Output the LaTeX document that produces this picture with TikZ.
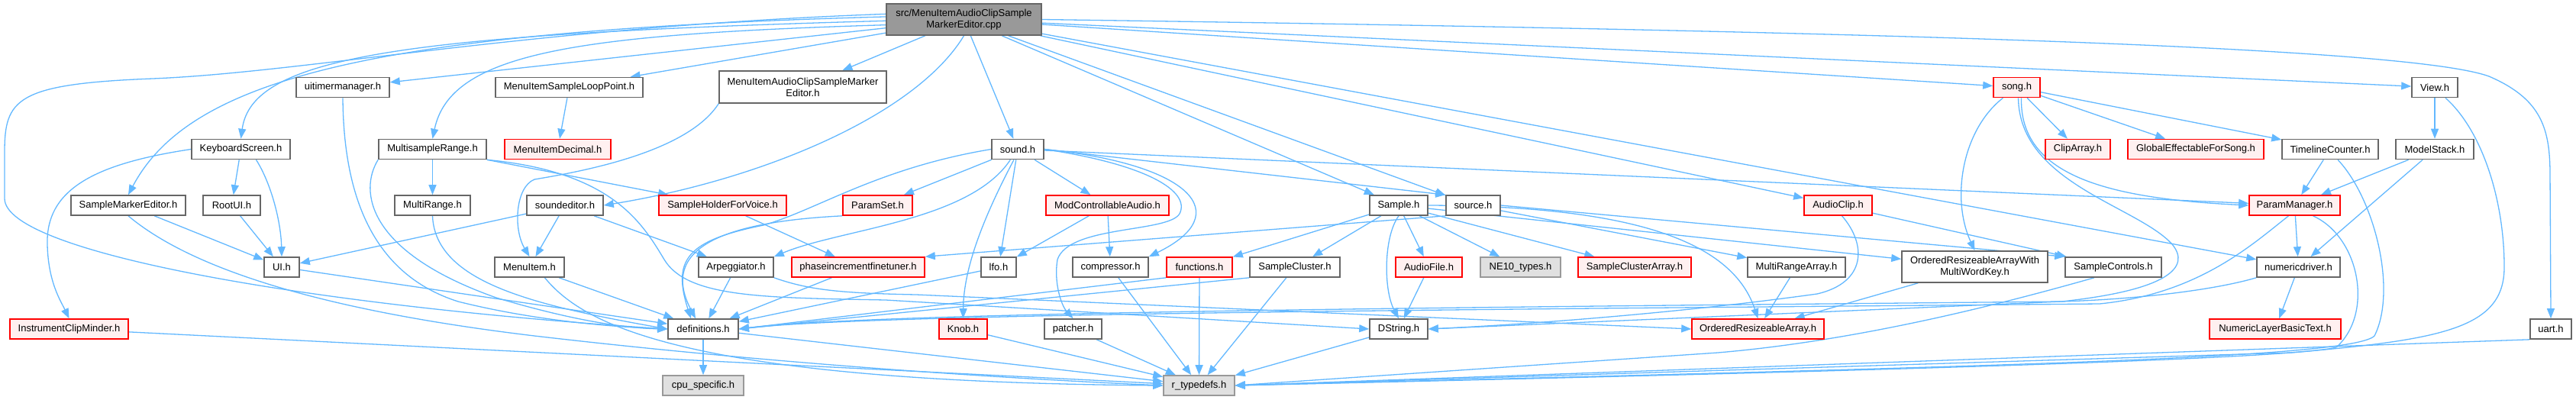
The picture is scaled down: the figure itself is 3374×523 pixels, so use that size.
\documentclass[tikz,border=0pt]{standalone}
\usepackage{fontspec}
\setmainfont{Liberation Sans}
\usepackage{xcolor}
\usepackage{tikz}
\usetikzlibrary{arrows.meta,backgrounds}

\definecolor{depblue}{HTML}{63B8FF}
\definecolor{boxline}{HTML}{666666}
\definecolor{leaffill}{HTML}{E0E0E0}
\definecolor{leafline}{HTML}{999999}
\definecolor{redfill}{HTML}{FFF0F0}

\tikzset{
  hdr/.style={draw=boxline, fill=white, line width=1.6pt, minimum height=26, inner sep=0pt,
    font=\fontsize{13}{15}\selectfont, align=center},
  redhdr/.style={hdr, draw=red, fill=redfill},
  leafhdr/.style={hdr, draw=leafline, fill=leaffill},
  tophdr/.style={hdr, fill=leafline},
  dep/.style={depblue, line width=1.3pt, -{Triangle[length=13pt, width=10pt]}},
}

\begin{document}
\begin{tikzpicture}[x=1pt, y=-1pt]
  \useasboundingbox (0,0) rectangle (3374,523);
  % Root file
  \node[tophdr, minimum width=203, minimum height=41] (cpp) at (1262.5,25.5) {src/MenuItemAudioClipSample\\MarkerEditor.cpp};
  % Row 1
  \node[hdr, minimum width=122] (uitimer) at (449,114.5) {uitimermanager.h};
  \node[hdr, minimum width=193] (mislp) at (745.5,114.5) {MenuItemSampleLoopPoint.h};
  \node[hdr, minimum width=219, minimum height=42] (miacsme) at (1051.5,114) {MenuItemAudioClipSampleMarker\\Editor.h};
  \node[redhdr, minimum width=61] (song) at (2641.5,114.5) {song.h};
  \node[hdr, minimum width=60] (view) at (3189,114.5) {View.h};
  % Row 2
  \node[hdr, minimum width=129] (kbd) at (315.5,195.5) {KeyboardScreen.h};
  \node[hdr, minimum width=141] (msr) at (566.5,195.5) {MultisampleRange.h};
  \node[redhdr, minimum width=139] (midec) at (730.5,195.5) {MenuItemDecimal.h};
  \node[hdr, minimum width=68] (sound) at (1333,195.5) {sound.h};
  \node[redhdr, minimum width=85] (cliparr) at (2721.5,195.5) {ClipArray.h};
  \node[redhdr, minimum width=178] (globfx) at (2876,195.5) {GlobalEffectableForSong.h};
  \node[hdr, minimum width=126] (tcount) at (3052,195.5) {TimelineCounter.h};
  \node[hdr, minimum width=102] (mstack) at (3189,195.5) {ModelStack.h};
  % Row 3
  \node[hdr, minimum width=150] (sme) at (168,269) {SampleMarkerEditor.h};
  \node[hdr, minimum width=75] (rootui) at (303.5,269) {RootUI.h};
  \node[hdr, minimum width=99] (mrange) at (566.5,269) {MultiRange.h};
  \node[hdr, minimum width=100] (sedit) at (740,269) {soundeditor.h};
  \node[redhdr, minimum width=167] (shfv) at (946.5,269) {SampleHolderForVoice.h};
  \node[redhdr, minimum width=91] (pset) at (1149.5,269) {ParamSet.h};
  \node[redhdr, minimum width=161] (mca) at (1450.5,269) {ModControllableAudio.h};
  \node[hdr, minimum width=76] (sample) at (1832,269) {Sample.h};
  \node[hdr, minimum width=71] (source) at (1929.5,269) {source.h};
  \node[redhdr, minimum width=89] (aclip) at (2407.5,269) {AudioClip.h};
  \node[redhdr, minimum width=119] (pman) at (3005.5,269) {ParamManager.h};
  % Row 4
  \node[hdr, minimum width=46] (ui) at (369,350) {UI.h};
  \node[hdr, minimum width=91] (mitem) at (693.5,350) {MenuItem.h};
  \node[hdr, minimum width=98] (arp) at (964,350) {Arpeggiator.h};
  \node[redhdr, minimum width=174] (phase) at (1124,350) {phaseincrementfinetuner.h};
  \node[hdr, minimum width=46] (lfo) at (1308,350) {lfo.h};
  \node[hdr, minimum width=99] (comp) at (1454.5,350) {compressor.h};
  \node[redhdr, minimum width=86] (func) at (1571,350) {functions.h};
  \node[hdr, minimum width=118] (scluster) at (1696,350) {SampleCluster.h};
  \node[redhdr, minimum width=87] (afile) at (1871.5,350) {AudioFile.h};
  \node[leafhdr, minimum width=105] (ne10) at (1991.5,350) {NE10\_types.h};
  \node[redhdr, minimum width=148] (scarr) at (2141,350) {SampleClusterArray.h};
  \node[hdr, minimum width=128] (mrarr) at (2353,350) {MultiRangeArray.h};
  \node[hdr, minimum width=191, minimum height=41] (orawk) at (2586.5,349.5) {OrderedResizeableArrayWith\\MultiWordKey.h};
  \node[hdr, minimum width=126] (sctrl) at (2768,350) {SampleControls.h};
  \node[hdr, minimum width=109] (ndrv) at (3010.5,350) {numericdriver.h};
  % Row 5
  \node[redhdr, minimum width=155] (icm) at (90.5,431) {InstrumentClipMinder.h};
  \node[hdr, minimum width=92] (defs) at (921,431) {definitions.h};
  \node[redhdr, minimum width=63] (knob) at (1261.5,431) {Knob.h};
  \node[hdr, minimum width=75] (patcher) at (1405.5,431) {patcher.h};
  \node[hdr, minimum width=76] (dstr) at (1832,431) {DString.h};
  \node[redhdr, minimum width=173] (ora) at (2302.5,431) {OrderedResizeableArray.h};
  \node[redhdr, minimum width=172] (nlbt) at (2980,431) {NumericLayerBasicText.h};
  \node[hdr, minimum width=54] (uart) at (3341,431) {uart.h};
  % Row 6
  \node[leafhdr, minimum width=106] (cpu) at (921,505) {cpu\_specific.h};
  \node[leafhdr, minimum width=93] (rtd) at (1570.5,505) {r\_typedefs.h};

  \begin{scope}[on background layer]
    % Straight includes
    \foreach \a/\b in {cpp/uitimer, cpp/mislp, cpp/miacsme, cpp/sound, cpp/sample, cpp/source, cpp/aclip, cpp/ndrv, cpp/song, cpp/view,
        mislp/midec, msr/mrange, msr/shfv, kbd/rootui, rootui/ui, sme/ui, sedit/ui, sedit/mitem, sedit/arp, shfv/phase,
        sound/pset, sound/lfo, sound/mca, sound.east/source.north west, sound/pman, mca/lfo, mca/comp,
        ui/defs, mitem/defs, arp/defs, phase/defs, lfo/defs, func.south west/defs.east, scluster.south west/defs.east,
        sample/scluster, sample/afile, sample/ne10, sample/scarr, sample/func, sample/orawk, afile/dstr,
        source.south west/phase.north east, source/mrarr, source.east/sctrl.north west, aclip/sctrl, mrarr/ora, orawk/ora,
        song/cliparr, song/globfx, song/tcount, view/mstack, tcount/pman, mstack/pman, mstack/ndrv, pman/ndrv, ndrv/nlbt,
        defs/cpu, defs/rtd, icm/rtd, knob/rtd, patcher/rtd, comp/rtd, func/rtd, scluster/rtd, dstr/rtd, uart.south west/rtd.east}
      \draw[dep] (\a) -- (\b);
    % Curved includes from the root
    \draw[dep] (cpp.176) .. controls (700,35) and (400,95) .. (200,103) .. controls (20,110) and (6,130) .. (6,200) -- (6,260) .. controls (6,330) and (400,400) .. (defs.west);
    \draw[dep] (cpp.178) .. controls (500,40) and (250,100) .. (sme.north);
    \draw[dep] (cpp.181) .. controls (520,45) and (330,75) .. (kbd.north);
    \draw[dep] (cpp.184) .. controls (750,45) and (590,70) .. (msr.north);
    \draw[dep] (cpp.south) .. controls (1200,150) and (1000,235) .. (sedit.east);
    \draw[dep] (cpp.east) .. controls (2400,40) and (3150,60) .. (3260,100) .. controls (3330,130) and (3340,170) .. (3340,230) -- (uart.north);
    % Left part
    \draw[dep] (kbd.west) .. controls (120,215) and (60,250) .. (62,320) .. controls (63,370) and (80,395) .. (icm.north);
    \draw[dep] ([xshift=20pt]kbd.south) .. controls (355,240) and (368,290) .. (ui.north);
    \draw[dep] (sme.south) .. controls (260,360) and (450,410) .. (700,440) .. controls (1000,475) and (1300,495) .. (rtd.west);
    \draw[dep] (uitimer.south) .. controls (450,260) and (490,360) .. (600,395) .. controls (700,420) and (800,428) .. (defs.west);
    \draw[dep] (msr.south west) .. controls (470,250) and (480,330) .. (650,390) .. controls (750,420) and (820,430) .. (defs.west);
    \draw[dep] (mrange.south) .. controls (570,370) and (700,400) .. (defs.west);
    \draw[dep] (msr.south east) .. controls (800,225) and (840,290) .. (870,340) .. controls (900,390) and (1000,390) .. (1160,393) -- (dstr.west);
    \draw[dep] (miacsme.south west) .. controls (900,200) and (760,225) .. (700,235) .. controls (675,245) and (672,300) .. (mitem.north);
    \draw[dep] ([xshift=20pt]mitem.south) .. controls (760,420) and (880,500) .. (rtd.west);
    % sound.h
    \draw[dep] (sound.west) .. controls (1150,220) and (1070,275) .. (1000,295) .. controls (900,315) and (880,340) .. ([xshift=-16pt]defs.north);
    \draw[dep] (pset.south west) .. controls (960,290) and (860,320) .. ([xshift=-10pt]defs.north);
    \draw[dep] (sound.235) .. controls (1270,290) and (1100,300) .. (arp.north east);
    \draw[dep] (sound.250) .. controls (1280,300) and (1262,360) .. (knob.north);
    \draw[dep] (sound.east) .. controls (1500,215) and (1560,250) .. (1545,280) .. controls (1530,305) and (1400,295) .. (1385,340) .. controls (1380,370) and (1390,400) .. (patcher.north);
    \draw[dep] (sound.east) .. controls (1560,215) and (1620,280) .. (comp.north east);
    \draw[dep] (arp.south east) .. controls (1060,380) and (1100,384) .. (1200,386) -- (ora.west);
    % Sample.h and AudioClip.h
    \draw[dep] (sample.south) .. controls (1812,310) and (1812,380) .. (dstr.north);
    \draw[dep] (sample.east) .. controls (2150,270) and (2270,320) .. (ora.north);
    \draw[dep] (aclip.-70) .. controls (2445,320) and (2445,370) .. (2380,385) .. controls (2200,410) and (2000,425) .. (dstr.east);
    % song.h
    \draw[dep] ([xshift=6pt]song.south) .. controls (2645,230) and (2760,260) .. (pman.west);
    \draw[dep] ([xshift=-18pt]song.south) .. controls (2570,170) and (2555,260) .. (orawk.north);
    \draw[dep] ([xshift=2pt]song.south) .. controls (2645,240) and (2800,270) .. (2845,320) .. controls (2870,350) and (2840,380) .. (2700,395) -- (dstr.east);
    % Right part
    \draw[dep] (pman.-120) .. controls (2950,320) and (2880,385) .. (2750,398) .. controls (2000,405) and (1150,410) .. (defs.east);
    \draw[dep] (ndrv.south west) .. controls (2900,380) and (2800,392) .. (2700,395) .. controls (2000,402) and (1150,408) .. (defs.east);
    \draw[dep] ([xshift=24pt]pman.south) .. controls (3090,310) and (3110,410) .. (3060,455) .. controls (3000,470) and (2500,485) .. (rtd.east);
    \draw[dep] ([xshift=10pt]tcount.south) .. controls (3110,260) and (3140,380) .. (3110,440) .. controls (3080,470) and (2600,480) .. (rtd.east);
    \draw[dep] ([xshift=14pt]view.south) .. controls (3250,170) and (3280,260) .. (3280,350) .. controls (3280,430) and (3200,445) .. (3000,462) -- (rtd.east);
    \draw[dep] ([xshift=-25pt]sctrl.south) .. controls (2650,390) and (2450,445) .. (2250,462) -- (rtd.east);
  \end{scope}
\end{tikzpicture}
\end{document}
